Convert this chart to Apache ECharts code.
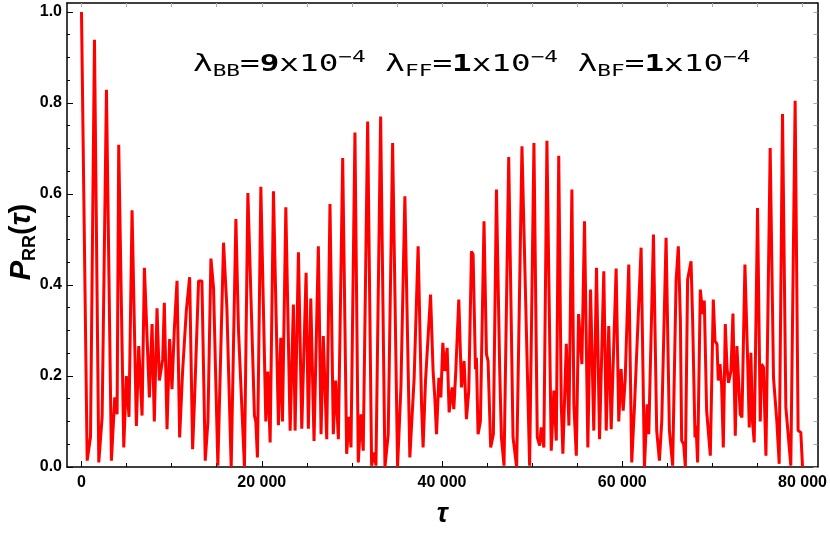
<!DOCTYPE html>
<html>
<head>
<meta charset="utf-8">
<script src="https://cdn.jsdelivr.net/npm/echarts@6.0.0/dist/echarts.min.js"></script>
<style>
  html, body { margin: 0; padding: 0; background: #fff; }
  #chart { width: 830px; height: 533px; }
</style>
</head>
<body>
<div id="chart"></div>
<script>
// values (peaks, troughs, shoulders)
const tau = [
  0, 630, 1000, 1440, 1920, 2290, 2470, 2770, 3320, 3690, 3950, 4130, 4690, 4980, 5270, 5610,
  6090, 6350, 6720, 6980, 7530, 7830, 8080, 8380, 8640, 9010, 9190, 9490, 9780, 10040, 10300, 10600,
  10890, 11220, 11630, 12000, 12330, 12550, 12990, 13360, 13730, 14030, 14360, 14650, 15130, 15760, 16130, 16610,
  17130, 17420, 18080, 18460, 19190, 19340, 19520, 19900, 20450, 20670, 20930, 21300, 21850, 22110, 22300, 22670,
  23150, 23510, 23700, 24070, 24440, 24920, 25170, 25440, 25800, 26280, 26580, 26830, 27210, 27570, 27940, 28200,
  28500, 28980, 29420, 29710, 29900, 30340, 30710, 31010, 31260, 31750, 32190, 32480, 32670, 33190, 33670, 34030,
  34520, 35070, 35440, 35880, 36430, 36910, 37350, 37730, 37900, 38170, 38730, 39010, 39200, 39390, 39650, 39870,
  40090, 40310, 40570, 40790, 41120, 41310, 41530, 41860, 42160, 42450, 42710, 42970, 43270, 43450, 43710, 43820,
  44000, 44260, 44660, 44930, 45110, 45400, 45700, 46040, 46400, 46590, 46880, 47400, 47880, 48280, 48870, 49720,
  50200, 50570, 50830, 51010, 51300, 51640, 52120, 52410, 52680, 52950, 53230, 53410, 53790, 54080, 54410, 54630,
  54900, 55150, 55340, 55520, 55810, 56180, 56480, 56660, 56840, 57140, 57480, 57950, 58220, 58500, 58770, 59320,
  59610, 59870, 60100, 60320, 60720, 61050, 61350, 61570, 62090, 62460, 62760, 62940, 63460, 63820, 64120, 64380,
  64860, 65230, 65590, 65970, 66220, 66450, 66590, 66810, 67000, 67250, 67440, 67630, 67810, 68070, 68180, 68360,
  68660, 68920, 69100, 69360, 69550, 69770, 70100, 70290, 70510, 70650, 70840, 71020, 71210, 71430, 71620, 71790,
  72060, 72280, 72540, 72720, 72900, 73090, 73280, 73610, 73900, 74090, 74270, 74450, 74640, 75010, 75310, 75450,
  75670, 75940, 76410, 76780, 76970, 77150, 77410, 77780, 78150, 78330, 78700, 79180, 79510, 79810, 80000
];
const pRR = [
  1.0, 0.014, 0.066, 0.939, 0.01, 0.11, 0.11, 0.829, 0.014, 0.153, 0.116, 0.708, 0.043, 0.2, 0.11, 0.564,
  0.09, 0.266, 0.113, 0.438, 0.153, 0.314, 0.1, 0.349, 0.19, 0.237, 0.361, 0.083, 0.281, 0.171, 0.303, 0.409,
  0.065, 0.211, 0.343, 0.417, 0.039, 0.153, 0.409, 0.409, 0.014, 0.1, 0.458, 0.394, 0.003, 0.493, 0.35, 0.0,
  0.545, 0.3, 0.0, 0.602, 0.113, 0.1, 0.021, 0.616, 0.1, 0.21, 0.054, 0.606, 0.092, 0.284, 0.1, 0.571,
  0.08, 0.357, 0.08, 0.472, 0.084, 0.427, 0.084, 0.37, 0.057, 0.485, 0.072, 0.288, 0.061, 0.578, 0.072, 0.19,
  0.061, 0.679, 0.029, 0.11, 0.043, 0.735, 0.01, 0.116, 0.036, 0.759, 0.003, 0.032, 0.003, 0.77, 0.0, 0.072,
  0.712, 0.0, 0.175, 0.595, 0.021, 0.196, 0.485, 0.138, 0.043, 0.19, 0.379, 0.211, 0.153, 0.072, 0.196, 0.153,
  0.273, 0.211, 0.262, 0.12, 0.175, 0.127, 0.211, 0.368, 0.175, 0.233, 0.105, 0.168, 0.474, 0.467, 0.215, 0.24,
  0.072, 0.1, 0.54, 0.248, 0.233, 0.043, 0.072, 0.61, 0.215, 0.065, 0.003, 0.681, 0.065, 0.0, 0.705, 0.003,
  0.712, 0.065, 0.047, 0.087, 0.043, 0.717, 0.036, 0.168, 0.058, 0.684, 0.138, 0.029, 0.271, 0.091, 0.61, 0.138,
  0.025, 0.336, 0.339, 0.226, 0.54, 0.043, 0.39, 0.387, 0.08, 0.438, 0.061, 0.43, 0.08, 0.31, 0.083, 0.436,
  0.1, 0.215, 0.124, 0.19, 0.445, 0.01, 0.131, 0.127, 0.482, 0.0, 0.138, 0.072, 0.511, 0.08, 0.014, 0.1,
  0.504, 0.08, 0.003, 0.409, 0.485, 0.321, 0.058, 0.05, 0.0, 0.412, 0.412, 0.452, 0.321, 0.065, 0.091, 0.01,
  0.39, 0.336, 0.366, 0.124, 0.124, 0.025, 0.368, 0.277, 0.27, 0.19, 0.226, 0.182, 0.043, 0.314, 0.219, 0.185,
  0.211, 0.337, 0.069, 0.266, 0.262, 0.116, 0.109, 0.445, 0.241, 0.087, 0.251, 0.1, 0.054, 0.569, 0.1, 0.226,
  0.219, 0.025, 0.701, 0.196, 0.193, 0.1, 0.007, 0.776, 0.131, 0.131, 0.003, 0.805, 0.08, 0.076, 0.0
];

// tick positions
const xTicks = [0, 20000, 40000, 60000, 80000];
const xMinorTicks = [0, 5000, 10000, 15000, 20000, 25000, 30000, 35000, 40000, 45000, 50000, 55000, 60000, 65000, 70000, 75000, 80000];
const yTicks = [0, 0.2, 0.4, 0.6, 0.8, 1.0];
const yMinorTicks = [0, 0.05, 0.1, 0.15, 0.2, 0.25, 0.3, 0.35, 0.4, 0.45, 0.5, 0.55, 0.6, 0.65, 0.7, 0.75, 0.8, 0.85, 0.9, 0.95, 1.0];

const chart = echarts.init(document.getElementById("chart"));

const labelFont = { fontFamily: "Liberation Sans", fontWeight: "bold", fontSize: 16, color: "#000" };
const gray = "#6e6e6e";
const mono = "DejaVu Sans Mono";
const frameLine = { show: true, onZero: false, lineStyle: { color: "#000", width: 1.5 } };

// frame extends a little past the data range, as in the original
const xRange = { type: "value", min: -1608, max: 81663, splitLine: { show: false } };
const yRange = { type: "value", min: 0, max: 1.0197, splitLine: { show: false } };

const options = {
  animation: false,
  grid: { left: 67, right: 12, top: 3, bottom: 65 },
  xAxis: [
    Object.assign({}, xRange, {
      position: "bottom",
      axisLine: frameLine,
      axisTick: { inside: true, length: 6, customValues: xTicks, lineStyle: { color: "#000" } },
      axisLabel: Object.assign({}, labelFont, {
        margin: 8,
        customValues: xTicks,
        formatter: (v) => (v === 0 ? "0" : v / 1000 + " 000")
      }),
      name: "τ",
      nameLocation: "middle",
      nameGap: 34,
      nameTextStyle: { fontFamily: "Liberation Sans", fontWeight: "bold", fontStyle: "italic", fontSize: 27, color: "#000" }
    }),
    Object.assign({}, xRange, {
      position: "bottom",
      axisLine: { show: false, onZero: false },
      axisTick: { inside: true, length: 4, customValues: xMinorTicks, lineStyle: { color: "#000" } },
      axisLabel: { show: false }
    }),
    Object.assign({}, xRange, {
      position: "top",
      axisLine: frameLine,
      axisTick: { inside: true, length: 4, customValues: xMinorTicks, lineStyle: { color: "#aaa" } },
      axisLabel: { show: false }
    })
  ],
  yAxis: [
    Object.assign({}, yRange, {
      position: "left",
      axisLine: frameLine,
      axisTick: { inside: true, length: 6, customValues: yTicks, lineStyle: { color: "#000" } },
      axisLabel: Object.assign({}, labelFont, { margin: 5, customValues: yTicks, formatter: (v) => v.toFixed(1) })
    }),
    Object.assign({}, yRange, {
      position: "left",
      axisLine: { show: false, onZero: false },
      axisTick: { inside: true, length: 3, customValues: yMinorTicks, lineStyle: { color: "#000" } },
      axisLabel: { show: false }
    }),
    Object.assign({}, yRange, {
      position: "right",
      axisLine: frameLine,
      axisTick: { inside: true, length: 4, customValues: yMinorTicks, lineStyle: { color: "#aaa" } },
      axisLabel: { show: false }
    })
  ],
  graphic: [
    {
      type: "text", x: 22, y: 242, rotation: Math.PI / 2,
      style: {
        text: "{p|P}{s|RR}{b|(}{t|τ}{b|)}",
        align: "center", verticalAlign: "middle",
        rich: {
          p: { fontFamily: "Liberation Sans", fontWeight: "bold", fontStyle: "italic", fontSize: 29, lineHeight: 34, verticalAlign: "middle" },
          s: { fontFamily: "Liberation Sans", fontWeight: "bold", fontSize: 18, lineHeight: 18, verticalAlign: "bottom" },
          b: { fontFamily: "Liberation Sans", fontWeight: "bold", fontSize: 29, lineHeight: 34, verticalAlign: "middle" },
          t: { fontFamily: "Liberation Sans", fontWeight: "bold", fontStyle: "italic", fontSize: 29, lineHeight: 34, verticalAlign: "middle" }
        }
      }
    },
    {
      type: "text", x: 193, y: 50, scaleX: 1.42,
      style: {
        text: "{g|λ}{d|BB}{g|=}{k|9}{g|x10}{u|−4}{g| λ}{d|FF}{g|=}{k|1}{g|x10}{u|−4}{g| λ}{d|BF}{g|=}{k|1}{g|x10}{u|−4}",
        align: "left", verticalAlign: "top",
        rich: {
          g: { fontFamily: mono, fontSize: 23, color: gray, lineHeight: 30, verticalAlign: "middle" },
          k: { fontFamily: mono, fontSize: 23, color: "#111", fontWeight: "bold", lineHeight: 30, verticalAlign: "middle" },
          d: { fontFamily: mono, fontSize: 16, color: gray, lineHeight: 16, verticalAlign: "bottom" },
          u: { fontFamily: mono, fontSize: 16, color: gray, lineHeight: 16, verticalAlign: "top" }
        }
      }
    }
  ],
  series: [
    {
      type: "line",
      xAxisIndex: 0,
      yAxisIndex: 0,
      data: tau.map((t, i) => [t, pRR[i]]),
      showSymbol: false,
      clip: false,
      lineStyle: { color: "#ff0000", width: 3 },
      z: 3
    }
  ]
};

chart.setOption(options);
</script>
</body>
</html>
